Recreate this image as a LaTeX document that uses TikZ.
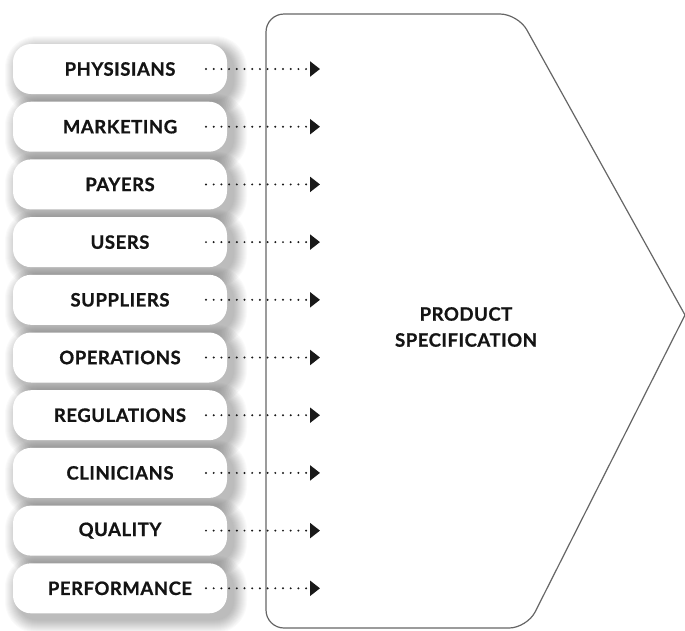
\documentclass[tikz,border=0pt]{standalone}
\usepackage{fontspec}
\setmainfont{Lato}[LetterSpace=3, BoldFeatures={FakeBold=0.8}]
\usetikzlibrary{arrows.meta}
\begin{document}
\begin{tikzpicture}[x=1pt,y=-1pt,
  lbl/.style={font=\fontsize{18.5}{26}\selectfont\bfseries, text=black!92},
  srcbox/.style={lbl, rectangle, rounded corners=18pt, fill=white,
    minimum width=214pt, minimum height=50pt, inner sep=0pt},
  shadelayer/.style={fill=black, fill opacity=0.02, draw=none},
  flow/.style={draw=black!90, line width=2.2pt, line cap=round,
    dash pattern=on 0pt off 7.7pt, -{Triangle[length=10pt,width=15pt]}},
  outline/.style={draw=black!60, line width=1.2pt, rounded corners=18pt, line join=miter}]
\fill[white] (0,0) rectangle (685,630);
\useasboundingbox (0,0) rectangle (685,630);
% big arrow-shaped block
\coordinate (tip) at (685,315);
\coordinate (tr) at (518,14);
\coordinate (tl) at (266,14);
\coordinate (bl) at (266,628);
\coordinate (br) at (527,628);
\draw[outline] (tip) -- (tr) -- (tl) -- (bl) -- (br) -- (tip);
\node[lbl, align=center] (ps) at (466,327) {PRODUCT\\SPECIFICATION};
% soft shadows behind the boxes
\foreach \i in {1,...,10}{
  \pgfmathsetmacro{\yy}{69+57.7*(\i-1)}
  \foreach \k in {0,...,13}{
    \pgfmathsetmacro{\ee}{14-\k}
    \fill[shadelayer, rounded corners={(18+\ee)*1pt}]
      ({13+6-\ee},{\yy-25+6-\ee}) rectangle ({227+6+\ee},{\yy+25+6+\ee});
  }
}
% source boxes
\foreach \t [count=\i] in {PHYSISIANS,MARKETING,PAYERS,USERS,SUPPLIERS,OPERATIONS,REGULATIONS,CLINICIANS,QUALITY,PERFORMANCE}{
  \pgfmathsetmacro{\yy}{69+57.7*(\i-1)}
  \node[srcbox] (b\i) at (120,\yy) {\t};
  \coordinate (s\i) at (206,\yy);
  \coordinate (e\i) at (320,\yy);
}
\foreach \i in {1,...,10}{
  \draw[flow] (s\i) -- (e\i);
}
\end{tikzpicture}
\end{document}
